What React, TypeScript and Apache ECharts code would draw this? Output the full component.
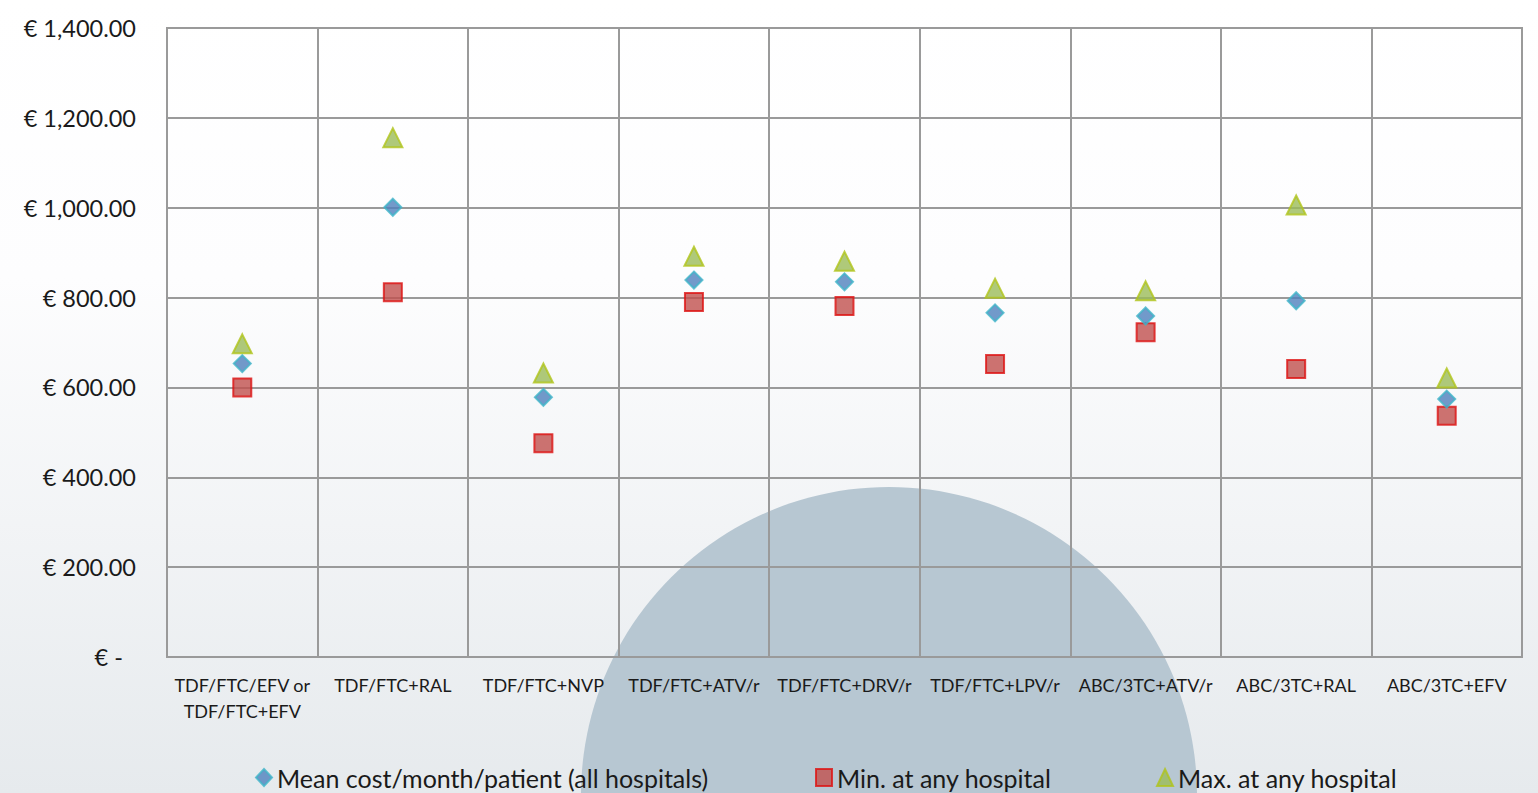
import React, { useEffect, useRef } from "react";
import * as echarts from "echarts";

const categories = [
  "TDF/FTC/EFV or\nTDF/FTC+EFV",
  "TDF/FTC+RAL",
  "TDF/FTC+NVP",
  "TDF/FTC+ATV/r",
  "TDF/FTC+DRV/r",
  "TDF/FTC+LPV/r",
  "ABC/3TC+ATV/r",
  "ABC/3TC+RAL",
  "ABC/3TC+EFV",
];
const meanCost = [653, 1001, 578, 839, 835, 766, 759, 793, 574];
const minCost = [600, 812, 476, 790, 781, 652, 723, 641, 537];
const maxCost = [697, 1156, 632, 892, 881, 821, 815, 1006, 621];
const seriesNames = [
  "Mean cost/month/patient (all hospitals)",
  "Min. at any hospital",
  "Max. at any hospital",
];
const yTicks = [0, 200, 400, 600, 800, 1000, 1200, 1400];

const FONT = "Lato";

function fmtEuro(v: number): string {
  if (v === 0) return "{z|€ -}";
  return "€ " + v.toLocaleString("en-US", { minimumFractionDigits: 2, maximumFractionDigits: 2 });
}

export default function App() {
  const ref = useRef<HTMLDivElement>(null);
  useEffect(() => {
    if (!ref.current) return;
    const chart = echarts.init(ref.current, undefined, { renderer: "svg" });
    const legendBase = {
      top: 765,
      itemWidth: 16,
      itemHeight: 17,
      itemGap: 0,
      padding: 0,
      textStyle: { fontFamily: FONT, fontSize: 25, lineHeight: 25, color: "#1a1a1a" },
    };
    chart.setOption({
      animation: false,
      backgroundColor: {
        type: "linear",
        x: 0,
        y: 0,
        x2: 0,
        y2: 1,
        colorStops: [
          { offset: 0, color: "#ffffff" },
          { offset: 0.35, color: "#fdfdfe" },
          { offset: 1, color: "#e6eaed" },
        ],
      },
      graphic: [
        {
          type: "circle",
          z: -10,
          silent: true,
          shape: { cx: 889, cy: 795, r: 308 },
          style: { fill: "#b7c7d2" },
        },
      ],
      grid: {
        left: 167,
        right: 16,
        top: 28,
        bottom: 136,
        show: true,
        borderColor: "#9a9a9a",
        borderWidth: 2,
        backgroundColor: "transparent",
      },
      legend: [
        { ...legendBase, left: 255, data: [seriesNames[0]] },
        { ...legendBase, left: 815, data: [seriesNames[1]] },
        { ...legendBase, left: 1156, data: [seriesNames[2]] },
      ],
      xAxis: {
        type: "category",
        data: categories,
        boundaryGap: true,
        axisLine: { show: true, lineStyle: { color: "#9a9a9a", width: 2 } },
        axisTick: { show: false },
        splitLine: { show: true, interval: 0, lineStyle: { color: "#9a9a9a", width: 2 } },
        axisLabel: {
          interval: 0,
          margin: 15,
          fontFamily: FONT,
          fontSize: 18,
          lineHeight: 26,
          color: "#1a1a1a",
        },
      },
      yAxis: {
        type: "value",
        min: yTicks[0],
        max: yTicks[yTicks.length - 1],
        interval: 200,
        axisLine: { show: false },
        axisTick: { show: false },
        splitLine: { show: true, lineStyle: { color: "#9a9a9a", width: 2 } },
        axisLabel: {
          margin: 31,
          fontFamily: FONT,
          fontSize: 23.5,
          color: "#1a1a1a",
          formatter: (v: number) => fmtEuro(v),
          rich: { z: { fontFamily: FONT, fontSize: 23.5, color: "#1a1a1a", padding: [0, 13, 0, 0] } },
        },
      },
      series: [
        {
          name: seriesNames[0],
          type: "scatter",
          symbol: "diamond",
          symbolSize: 17,
          data: meanCost,
          z: 3,
          itemStyle: { color: "#4f81bd", borderColor: "#3fb4c8", borderWidth: 2 },
        },
        {
          name: seriesNames[1],
          type: "scatter",
          symbol: "rect",
          symbolSize: 18,
          data: minCost,
          z: 2,
          itemStyle: { color: "#c0504d", borderColor: "#dd1111", borderWidth: 2 },
        },
        {
          name: seriesNames[2],
          type: "scatter",
          symbol: "triangle",
          symbolSize: 19,
          data: maxCost,
          z: 2,
          itemStyle: { color: "#9bbb59", borderColor: "#b0c41a", borderWidth: 2 },
        },
      ],
    });
    return () => chart.dispose();
  }, []);
  return (
    <div
      ref={ref}
      style={{ position: "fixed", left: 0, top: 0, width: "1538px", height: "793px" }}
    />
  );
}
